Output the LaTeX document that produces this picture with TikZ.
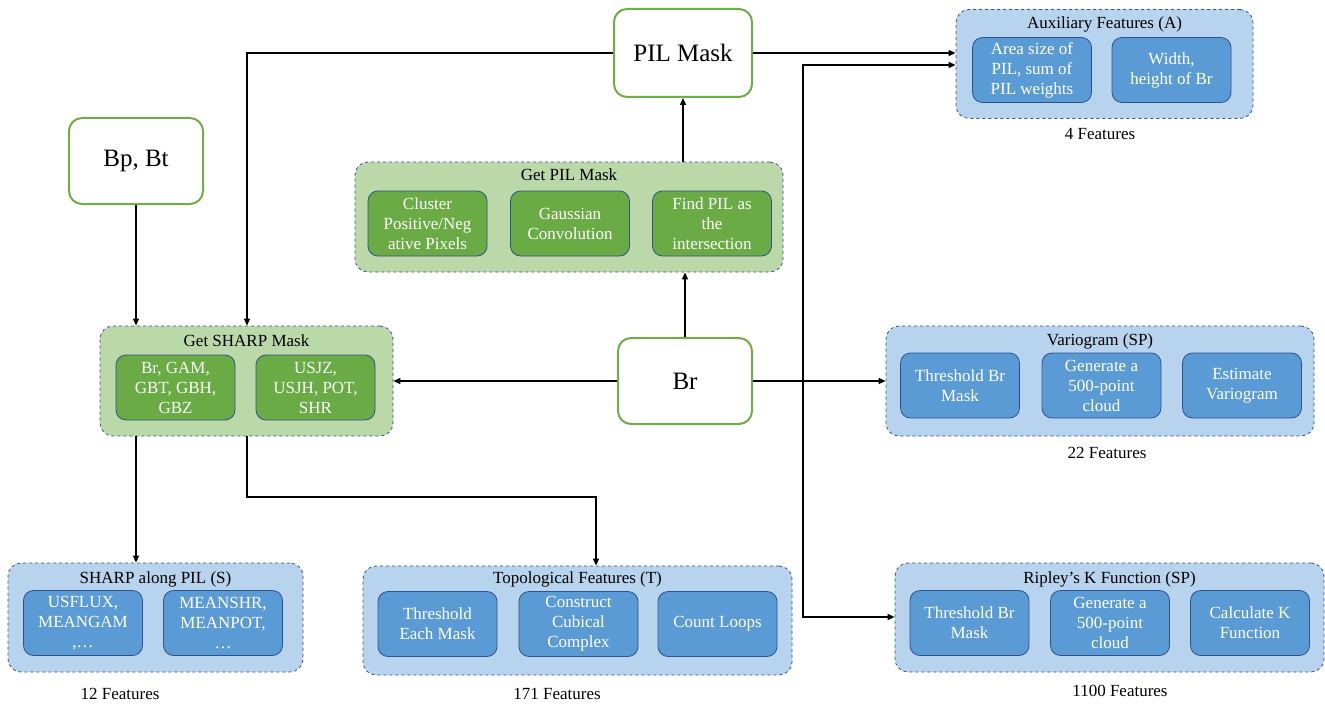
\documentclass[tikz,border=0pt]{standalone}
\usepackage{fontspec}
\setmainfont[Extension=.ttf, UprightFont=*-Regular, BoldFont=*-Bold]{LiberationSerif}
\usetikzlibrary{arrows.meta}
\definecolor{mainG}{HTML}{70AD47}
\definecolor{grpG}{HTML}{BBD8A8}
\definecolor{inG}{HTML}{6AAB45}
\definecolor{grpB}{HTML}{B7D3EE}
\definecolor{inB}{HTML}{5B9BD5}
\definecolor{edgeB}{HTML}{2F528F}
\tikzset{
  mainbox/.style={draw=mainG, line width=2pt, fill=white, rounded corners=13pt, inner sep=0pt, font=\fontsize{25}{28}\selectfont},
  grpbox/.style={draw=edgeB, dashed, line width=0.8pt, rounded corners=13pt, inner sep=0pt},
  gbox/.style={grpbox, fill=grpG},
  bbox/.style={grpbox, fill=grpB},
  inbox/.style={draw=edgeB, line width=0.8pt, rounded corners=10pt, inner sep=0pt, text=white, align=center, font=\fontsize{17}{20}\selectfont, minimum width=119pt, minimum height=65pt},
  ingreen/.style={inbox, fill=inG},
  inblue/.style={inbox, fill=inB},
  ttl/.style={font=\fontsize{17}{20}\selectfont, inner sep=0pt},
  arr/.style={-{Triangle[length=7pt,width=6pt]}, line width=1.4pt},
}
\begin{document}
\begin{tikzpicture}[x=1pt,y=-1pt]
\useasboundingbox (0,0) rectangle (1325,706);
% main nodes
\node[mainbox, minimum width=138pt, minimum height=88pt] (pil) at (683,53) {PIL Mask};
\node[mainbox, minimum width=134pt, minimum height=86pt] (bp) at (136,161) {Bp, Bt};
\node[mainbox, minimum width=134pt, minimum height=86pt] (br) at (685,381) {Br};
% Get PIL Mask
\node[gbox, minimum width=428pt, minimum height=110pt] (getpil) at (569,217) {};
\node[ttl] (getpilt) at (569,175) {Get PIL Mask};
\node[ingreen] (gp1) at (427.5,223.5) {Cluster\\Positive/Neg\\ative Pixels};
\node[ingreen] (gp2) at (570,223.5) {Gaussian\\Convolution};
\node[ingreen] (gp3) at (712,223.5) {Find PIL as\\the\\intersection};
% Get SHARP Mask
\node[gbox, minimum width=293pt, minimum height=110pt] (sharp) at (246.5,381) {};
\node[ttl] (sharpt) at (246.5,341) {Get SHARP Mask};
\node[ingreen] (sm1) at (175.5,387.5) {Br, GAM,\\GBT, GBH,\\GBZ};
\node[ingreen] (sm2) at (315.5,387.5) {USJZ,\\USJH, POT,\\SHR};
% Auxiliary
\node[bbox, minimum width=297pt, minimum height=109pt] (aux) at (1104.5,64) {};
\node[ttl] (auxt) at (1104.5,24) {Auxiliary Features (A)};
\node[inblue] (ax1) at (1032,70) {Area size of\\PIL, sum of\\PIL weights};
\node[inblue] (ax2) at (1171.5,70) {Width,\\height of Br};
\node[ttl] (auxn) at (1100,134) {4 Features};
% Variogram
\node[bbox, minimum width=428pt, minimum height=110pt] (vario) at (1100,381) {};
\node[ttl] (variot) at (1100,341) {Variogram (SP)};
\node[inblue] (v1) at (960,385.5) {Threshold Br\\Mask};
\node[inblue] (v2) at (1101.5,385.5) {Generate a\\500-point\\cloud};
\node[inblue] (v3) at (1242,385.5) {Estimate\\Variogram};
\node[ttl] (varion) at (1107,453) {22 Features};
% Ripley
\node[bbox, minimum width=429pt, minimum height=109pt] (rip) at (1109.5,617.5) {};
\node[ttl] (ript) at (1109.5,579) {Ripley's K Function (SP)};
\node[inblue] (r1) at (969.5,623) {Threshold Br\\Mask};
\node[inblue] (r2) at (1110,623) {Generate a\\500-point\\cloud};
\node[inblue] (r3) at (1250,623) {Calculate K\\Function};
\node[ttl] (ripn) at (1120,691) {1100 Features};
% SHARP along PIL
\node[bbox, minimum width=295pt, minimum height=109pt] (spil) at (155.5,617.5) {};
\node[ttl] (spilt) at (155.5,579) {SHARP along PIL (S)};
\node[inblue] (s1) at (83,623) {USFLUX,\\MEANGAM\\,\dots};
\node[inblue] (s2) at (223,623) {MEANSHR,\\MEANPOT,\\\dots};
\node[ttl] (spiln) at (120,694) {12 Features};
% Topological
\node[bbox, minimum width=429pt, minimum height=109pt] (topo) at (577.5,620.5) {};
\node[ttl] (topot) at (577.5,579) {Topological Features (T)};
\node[inblue] (t1) at (437.5,624) {Threshold\\Each Mask};
\node[inblue] (t2) at (578.5,624) {Construct\\Cubical\\Complex};
\node[inblue] (t3) at (717.5,624) {Count Loops};
\node[ttl] (topon) at (557,694) {171 Features};
% coordinates
\coordinate (colA) at (247,53);
\coordinate (colB) at (247,497);
\coordinate (tpin) at (596,497);
\coordinate (vtop) at (803,65);
\coordinate (vbot) at (803,617);
% connectors
\draw[arr] (bp.south) -- (bp.south |- sharp.north);
\draw[arr] (pil.west) -- (colA) -- (colA |- sharp.north);
\draw[arr] (br.west) -- (br.west -| sharp.east);
\draw[arr] (br.north) -- (br.north |- getpil.south);
\draw[arr] (pil.south |- getpil.north) -- (pil.south);
\draw[arr] (pil.east) -- (pil.east -| aux.west);
\draw[arr] (br.east) -- (br.east -| vario.west);
\draw[arr] (vbot) -- (vtop) -- (vtop -| aux.west);
\draw[arr] (vtop) -- (vbot) -- (vbot -| rip.west);
\draw[arr] (bp.south |- sharp.south) -- (bp.south |- spil.north);
\draw[arr] (colB |- sharp.south) -- (colB) -- (tpin) -- (tpin |- topo.north);
\end{tikzpicture}
\end{document}
